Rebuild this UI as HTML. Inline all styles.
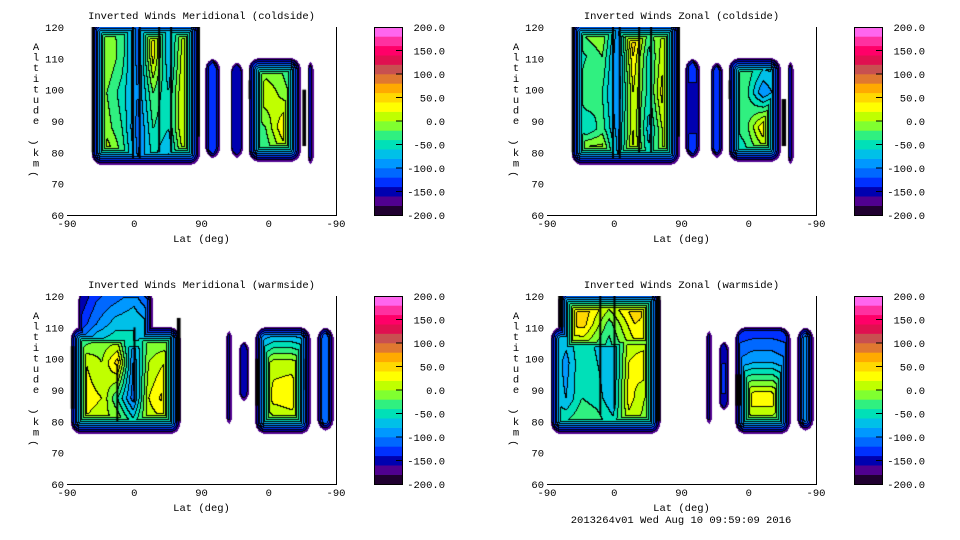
<!DOCTYPE html>
<html><head><meta charset="utf-8"><style>
body{margin:0;background:#fff;width:960px;height:540px;overflow:hidden;position:relative;font-family:"Liberation Mono",monospace}
canvas{position:absolute}
svg{position:absolute;left:0;top:0}
</style></head><body>
<svg id="svg" width="960" height="540"></svg>
<script>
// ---- data ----
const panelTitles=["Inverted Winds Meridional (coldside)","Inverted Winds Zonal (coldside)","Inverted Winds Meridional (warmside)","Inverted Winds Zonal (warmside)"];
const xTickLabels=["-90","0","90","0","-90"];
const yTickLabels=[60,70,80,90,100,110,120];
const cbarLabels=["200.0","150.0","100.0","50.0","0.0","-50.0","-100.0","-150.0","-200.0"];
const levelColors=["#200030","#500090","#0000b0","#0030ff","#0068ff","#0098ff","#00c0e8","#00e0b8","#30f080","#80ff30","#c0ff00","#ffff00","#ffd800","#ffaa00","#e07830","#c85050","#e01050","#ff0068","#ff30a0","#ff66ee"];
const p1Blobs=[
 {u:[33,178],a:[76,122],g:[[0,-10,-30,-110,30,-80,10,10],[5,0,-30,-110,30,-80,20,20],[30,-20,-50,-100,-20,-60,30,30],[25,-10,-40,-110,-40,-60,30,20],[40,30,-20,-100,-60,-90,0,0]]},
 {u:[185,205],a:[78,110],g:[[-140],[-120],[-140]]},
 {u:[219,236],a:[78,109],g:[[-150],[-140],[-150]]},
 {u:[243,313],a:[77,110],g:[[-60,-30,-30,-60],[-20,20,-10,-40],[-40,-20,40,50],[-60,-40,-10,-30]]},
 {u:[322,330],a:[75,110],g:[[-150],[-150]]}];
const p1Strips=[[33,37,80,120],[87,89,78,120],[96,98,78,120],[122,124,80,120],[138,140,80,120],[175,178,85,120],[243,245,97,103],[315,320,82,100]];
const p2Blobs=[
 {u:[33,178],a:[76,122],g:[[-30,0,10,-90,80,-20,0,10],[-60,-40,-20,-100,40,-50,20,20],[-60,-20,-40,-100,20,-50,40,20],[-50,-60,-30,-90,20,-70,10,20],[60,60,40,-80,30,-50,0,-10]]},
 {u:[185,205],a:[78,110],g:[[-130],[-150],[-130]]},
 {u:[219,236],a:[78,109],g:[[-130],[-120],[-130]]},
 {u:[243,313],a:[77,110],g:[[-40,-20,-40,-50],[-20,-30,-100,-60],[-50,-30,40,60],[-60,-50,-30,-30]]},
 {u:[322,330],a:[75,110],g:[[-110],[-110]]}];
const p2Strips=[[33,37,80,120],[87,89,78,120],[96,98,78,120],[122,124,80,120],[138,140,80,120],[175,178,85,120],[243,245,97,103],[314,320,82,97]];
const p3Blobs=[
 {u:[15,115],a:[100,122],g:[[-170,-130,-120,-100,-150],[-140,-100,-70,-60,-80],[-60,-20,-20,-60,-40]]},
 {u:[5,152],a:[76,110],g:[[-100,-60,-20,-40,-80,-20,-40,-80],[-20,20,0,50,-100,0,20,-40],[20,30,20,-40,-110,20,50,-20],[-10,10,0,20,-20,0,0,-40]]},
 {u:[213,221],a:[78,110],g:[[-60],[-60]]},
 {u:[230,244],a:[86,106],g:[[-150],[-140],[-150]]},
 {u:[252,326],a:[76,110],g:[[-120,-110,-110,-120],[-40,10,10,-20],[-20,30,40,-20],[-40,-30,-20,-60]]},
 {u:[335,357],a:[77,110],g:[[-120],[-110],[-120]]}];
const p3Strips=[[5,10,84,104],[66,68,80,98],[89,91,86,110],[147,152,80,113],[252,257,85,100],[318,321,90,100]];
const p4Blobs=[
 {u:[15,152],a:[100,122],g:[[60,60,40,80,20],[40,50,-30,40,20],[-40,-30,-60,0,20]]},
 {u:[5,152],a:[76,110],g:[[-60,-60,-40,-70,-80,0,-20,-40],[-50,-90,-40,-60,-80,20,40,0],[-60,-80,-40,-50,-80,30,0,-20],[-20,-20,-10,-20,-40,0,-10,-20]]},
 {u:[213,221],a:[78,110],g:[[-120],[-100],[-120]]},
 {u:[230,244],a:[83,106],g:[[-160],[-130],[-150]]},
 {u:[252,326],a:[76,110],g:[[-140,-140,-140,-140],[-100,-80,-80,-100],[20,40,40,-20],[-40,-40,-40,-60]]},
 {u:[335,357],a:[77,110],g:[[-100],[-60],[-80]]}];
const p4Strips=[[15,22,110,120],[70,72,82,120],[89,91,84,120],[147,152,80,120],[252,260,85,95]];
const panelBlobs=[p1Blobs,p2Blobs,p3Blobs,p4Blobs];
const panelStrips=[p1Strips,p2Strips,p3Strips,p4Strips];
const panelPos=[[67,27],[547,27],[67,296],[547,296]];
// ---- geometry ----
const PW=269,PH=188;
const xS=u=>u*PW/360, yS=a=>(120-a)*PH/60;
const NS="http://www.w3.org/2000/svg";
const svg=document.getElementById('svg');
function mk(tag,at,parent){const e=document.createElementNS(NS,tag);for(const k in at)e.setAttribute(k,at[k]);(parent||svg).appendChild(e);return e;}
function txt(x,y,s,anchor,parent){const t=mk('text',{x:x,y:y,'font-size':'10.5','font-family':'"Liberation Mono",monospace','text-anchor':anchor||'middle',fill:'#000'},parent);t.textContent=s;return t;}
function sample(b,u,a){
 const g=b.g,R=g.length,C=g[0].length;
 const fx=C>1?(u-b.u[0])/(b.u[1]-b.u[0])*(C-1):0;
 const fy=R>1?(b.a[1]-a)/(b.a[1]-b.a[0])*(R-1):0;
 const c0=Math.max(0,Math.min(C-1,Math.floor(fx))),c1=Math.min(C-1,c0+1),r0=Math.max(0,Math.min(R-1,Math.floor(fy))),r1=Math.min(R-1,r0+1);
 const tx=Math.max(0,Math.min(1,fx-c0)),ty=Math.max(0,Math.min(1,fy-r0));
 const top=g[r0][c0]*(1-tx)+g[r0][c1]*tx,bot=g[r1][c0]*(1-tx)+g[r1][c1]*tx;
 return top*(1-ty)+bot*ty;
}
function hex(h){return [parseInt(h.substr(1,2),16),parseInt(h.substr(3,2),16),parseInt(h.substr(5,2),16)];}
const rgb=levelColors.map(hex);
panelPos.forEach((pp,pi)=>{
 const [X,Y]=pp;
 const cv=document.createElement('canvas');cv.width=PW;cv.height=PH;cv.style.left=X+'px';cv.style.top=Y+'px';
 
 
 document.body.appendChild(cv);
 const ctx=cv.getContext('2d');const img=ctx.createImageData(PW,PH);
 const lev=new Int16Array(PW*PH).fill(-1);
 const RR=120;
 for(let py=0;py<PH;py++)for(let px=0;px<PW;px++){
  const u=(px+0.5)*360/PW,a=120-(py+0.5)*60/PH;let best=null;
  for(const b of panelBlobs[pi]){
   if(u<b.u[0]||u>b.u[1]||a<b.a[0]||a>b.a[1])continue;
   const ex=12*Math.min(xS(u)-xS(b.u[0]),xS(b.u[1])-xS(u));
   const ey=10*Math.min(yS(a)-yS(b.a[1]),yS(b.a[0])-yS(a));
   let e;
   if(ex<RR&&ey<RR)e=RR-Math.hypot(RR-ex,RR-ey);else e=Math.min(ex,ey);
   if(e<0)continue;
   const v=Math.min(sample(b,u,a),-180+e);
   if(best===null||v>best)best=v;
  }
  if(best!==null)lev[py*PW+px]=Math.max(0,Math.min(19,Math.floor((best+200)/20)));
 }
 for(let py=0;py<PH;py++)for(let px=0;px<PW;px++){
  const i=py*PW+px,l=lev[i];let c=[255,255,255];
  if(l>=0){c=rgb[l];
   const r=px+1<PW?lev[i+1]:-1,d=py+1<PH?lev[i+PW]:-1;
   if((r>=0&&r!==l)||(d>=0&&d!==l))c=[0,0,0];}
  img.data[i*4]=c[0];img.data[i*4+1]=c[1];img.data[i*4+2]=c[2];img.data[i*4+3]=255;
 }
 ctx.putImageData(img,0,0);
 ctx.fillStyle='#000';
 panelStrips[pi].forEach(s=>{ctx.fillRect(xS(s[0]),yS(s[3]),Math.max(2,xS(s[1])-xS(s[0])),yS(s[2])-yS(s[3]));});
 // frame & axes
 const g=mk('g',{});
 mk('rect',{x:X+0.5,y:Y+0.5,width:PW,height:PH,fill:'none',stroke:'#000','stroke-width':1,},g);
 for(let a=60;a<=120;a+=2){const yy=Y+yS(a)+0.5,L=(a%10===0)?6:3;
  mk('line',{x1:X,x2:X+L,y1:yy,y2:yy,stroke:'#000'},g);mk('line',{x1:X+PW-L,x2:X+PW,y1:yy,y2:yy,stroke:'#000'},g);}
 for(let u=0;u<=360;u+=10){const xx=X+xS(u)+0.5,L=(u%90===0)?6:3;
  mk('line',{x1:xx,x2:xx,y1:Y+PH-L,y2:Y+PH,stroke:'#000'},g);mk('line',{x1:xx,x2:xx,y1:Y,y2:Y+L,stroke:'#000'},g);}
 const tt=txt(X+PW/2,Y-8,panelTitles[pi],'middle',g);
 yTickLabels.forEach(v=>{const t=txt(X-3,Y+yS(v)+4,String(v),'end',g);});
 xTickLabels.forEach((s,k)=>{const t=txt(X+xS(k*90),Y+PH+12,s,'middle',g);});
 const xt=txt(X+PW/2,Y+PH+27,'Lat (deg)','middle',g);
 const yl=mk('g',{},g);
 "Altitude (km)".split('').forEach((ch,k)=>{if(ch===' ')return;
  const yy=Y+23+k*10.6;
  if(ch==='('||ch===')'){const t=txt(0,0,ch,'middle',yl);t.setAttribute('transform','translate('+(X-31)+','+(yy-3)+') rotate(-90)');}
  else txt(X-31,yy,ch,'middle',yl);});
 // colorbar
 const CX=X+307,cb=mk('g',{},g);
 levelColors.forEach((c,k)=>{mk('rect',{x:CX,y:Y+PH-(k+1)*PH/20,width:28,height:PH/20+0.3,fill:c},cb);});
 mk('rect',{x:CX+0.5,y:Y+0.5,width:28,height:PH,fill:'none',stroke:'#000'},cb);
 cbarLabels.forEach((s,k)=>{const yy=Y+k*PH/8;
  if(k>0&&k<8)mk('line',{x1:CX+22,x2:CX+28,y1:yy,y2:yy,stroke:'#000'},cb);
  const t=txt(CX+71,yy+4,s,'end',cb);});
});
const ft=txt(681,523,'2013264v01 Wed Aug 10 09:59:09 2016','middle');

</script>
</body></html>
